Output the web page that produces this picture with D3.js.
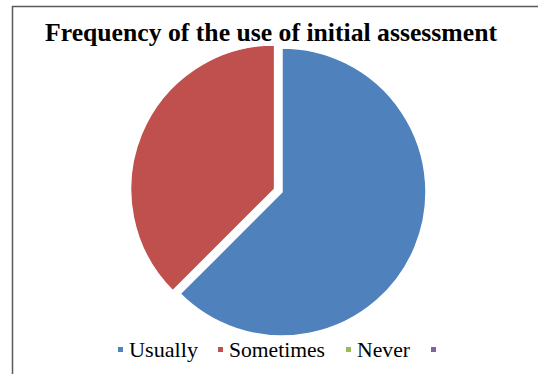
<!DOCTYPE html>
<html>
<head>
<meta charset="utf-8">
<script src="https://cdn.jsdelivr.net/npm/d3@7"></script>
<style>
  body { margin: 0; background: #fff; }
  svg { display: block; }
</style>
</head>
<body>
<div id="chart"></div>
<script>
const categories = ['Usually', 'Sometimes', 'Never', ''];
const values = [25, 15, 0, 0];
const colors = ['#4F81BD', '#C0504D', '#9BBB59', '#8064A2'];
const title = 'Frequency of the use of initial assessment';

const width = 538, height = 374;
const cx = 282, cy = 192, radius = 144;
const explode = 8; // only the red slice is pulled out

const svg = d3.select('#chart').append('svg')
      .attr('width', width)
      .attr('height', height);

// frame, cut off on the right and bottom like the screenshot
svg.append('path')
      .attr('d', `M12.5,${height} V6.5 H${width}`)
      .attr('fill', 'none')
      .attr('stroke', '#5a5a5a')
      .attr('stroke-width', 1.5);

svg.append('text')
      .attr('x', 45)
      .attr('y', 41)
      .attr('font-family', 'Liberation Serif, Times New Roman, serif')
      .attr('font-weight', 'bold')
      .attr('font-size', 25)
      .attr('textLength', 452)
      .attr('lengthAdjust', 'spacingAndGlyphs')
      .attr('fill', '#000')
      .text(title);

const data = categories.map((c, i) => ({ cat: c, value: values[i], color: colors[i], i: i }));

const pie = d3.pie().sort(null).value(d => d.value);
const arc = d3.arc().innerRadius(0).outerRadius(radius);

const g = svg.append('g').attr('transform', `translate(${cx},${cy})`);

g.selectAll('path')
      .data(pie(data).filter(d => d.value > 0))
      .join('path')
      .attr('d', arc)
      .attr('fill', d => d.data.color)
      .attr('stroke', '#fff')
      .attr('stroke-width', 1.5)
      .attr('transform', d => {
            if (d.data.i !== 1) return null;
            const mid = (d.startAngle + d.endAngle) / 2;
            return `translate(${Math.sin(mid) * explode},${-Math.cos(mid) * explode})`;
      });

// legend
const legendX = [118, 218, 346, 431];
const labelW = [69, 96, 53, 0];
const legend = svg.append('g');
data.forEach((d, i) => {
      legend.append('rect')
            .attr('x', legendX[i])
            .attr('y', 347)
            .attr('width', 5)
            .attr('height', 5)
            .attr('fill', d.color);
      const t = legend.append('text')
            .attr('x', legendX[i] + 11)
            .attr('y', 357)
            .attr('font-family', 'Liberation Serif, Times New Roman, serif')
            .attr('font-size', 21)
            .attr('fill', '#000')
            .text(d.cat);
      if (labelW[i]) t.attr('textLength', labelW[i]).attr('lengthAdjust', 'spacingAndGlyphs');
});
</script>
</body>
</html>
